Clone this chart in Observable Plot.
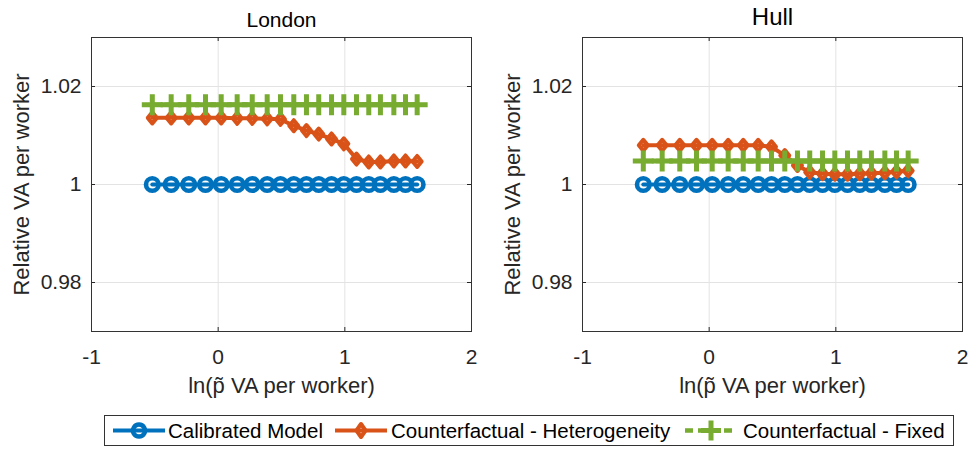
<!DOCTYPE html>
<html>
<head>
<meta charset="utf-8">
<script src="https://cdn.jsdelivr.net/npm/d3@7"></script>
<script src="https://cdn.jsdelivr.net/npm/@observablehq/plot@0.6"></script>
<style>
  html, body { margin: 0; padding: 0; background: #fff; }
  #wrap { position: relative; width: 975px; height: 450px; overflow: hidden; font-family: "Liberation Sans", Arial, sans-serif; }
  #wrap svg.panel { position: absolute; top: 0; }
  #legend { position: absolute; left: 104px; top: 415px; width: 850px; height: 31px; box-sizing: border-box; border: 1px solid #333; background: #fff; }
  .item { position: absolute; top: 0; height: 29px; }
  .item svg { position: absolute; top: 0; }
  .item span { position: absolute; top: 3px; font-size: 20.5px; line-height: 23px; color: #000; white-space: nowrap; }
</style>
</head>
<body>
<div id="wrap"><div id="legend"></div></div>
<script>
// ---- data ----
const xValues = [-0.52, -0.371, -0.232, -0.100, 0.024, 0.150, 0.269, 0.387, 0.492, 0.597,
                 0.697, 0.794, 0.895, 0.992, 1.092, 1.189, 1.281, 1.387, 1.479, 1.571];

const londonCalibrated = [1, 1, 1, 1, 1, 1, 1, 1, 1, 1, 1, 1, 1, 1, 1, 1, 1, 1, 1, 1];
const londonHeterogeneity = [1.0136, 1.0136, 1.0136, 1.0136, 1.0136, 1.0135, 1.0135, 1.0134, 1.0133, 1.0120,
                             1.0110, 1.0103, 1.0093, 1.0083, 1.0052, 1.0046, 1.0046, 1.0048, 1.0048, 1.0047];
const londonFixed = [1.0163, 1.0163, 1.0163, 1.0163, 1.0163, 1.0163, 1.0163, 1.0163, 1.0163, 1.0163,
                     1.0163, 1.0163, 1.0163, 1.0163, 1.0163, 1.0163, 1.0163, 1.0163, 1.0163, 1.0163];

const hullCalibrated = [1, 1, 1, 1, 1, 1, 1, 1, 1, 1, 1, 1, 1, 1, 1, 1, 1, 1, 1, 1];
const hullHeterogeneity = [1.0080, 1.0080, 1.0080, 1.0080, 1.0080, 1.0080, 1.0080, 1.0080, 1.0077, 1.0059,
                           1.0039, 1.0025, 1.0022, 1.0021, 1.0021, 1.0022, 1.0023, 1.0024, 1.0026, 1.0028];
const hullFixed = [1.0048, 1.0048, 1.0048, 1.0048, 1.0048, 1.0048, 1.0048, 1.0048, 1.0048, 1.0048,
                   1.0048, 1.0048, 1.0048, 1.0048, 1.0048, 1.0048, 1.0048, 1.0048, 1.0048, 1.0048];

const panelTitles = ["London", "Hull"];
const seriesNames = ["Calibrated Model", "Counterfactual - Heterogeneity", "Counterfactual - Fixed"];
const xTicks = [-1, 0, 1, 2];
const yTicks = [0.98, 1, 1.02];
const xDomain = [-1, 2];
const yDomain = [0.97, 1.03];
const xLabel = "ln(p\u0303 VA per worker)";
const yLabel = "Relative VA per worker";

// ---- styles ----
const colors = ["#0072BD", "#D95319", "#77AC30"];
const FONT = "Liberation Sans, Arial, Helvetica, sans-serif";

const diamondSym = {draw(ctx, size) {
  const r = Math.sqrt(size / Math.PI);
  ctx.moveTo(0, -r); ctx.lineTo(r * 0.82, 0); ctx.lineTo(0, r); ctx.lineTo(-r * 0.82, 0); ctx.closePath();
}};
const plusSym = {draw(ctx, size) {
  const r = Math.sqrt(size / Math.PI);
  ctx.moveTo(-r, 0); ctx.lineTo(r, 0); ctx.moveTo(0, -r); ctx.lineTo(0, r);
}};

function rows(ys) { return xValues.map((x, i) => ({x, y: ys[i]})); }

function panel(title, series, opts) {
  const [cal, het, fix] = series.map(rows);
  const W = opts.width, H = 410;
  const frameW = W - opts.ml - opts.mr, frameH = H - 37 - 79;
  return Plot.plot({
    width: W, height: H,
    marginLeft: opts.ml, marginRight: opts.mr, marginTop: 37, marginBottom: 79,
    x: {domain: xDomain},
    y: {domain: yDomain},
    style: {fontFamily: FONT, fontSize: "21px", color: "#262626", background: "white", overflow: "visible"},
    marks: [
      Plot.gridX(xTicks, {stroke: "#e3e3e3", strokeOpacity: 1}),
      Plot.gridY(yTicks, {stroke: "#e3e3e3", strokeOpacity: 1}),
      // inward ticks (MATLAB style) on all four sides
      Plot.tickX(xTicks, {x: d => d, stroke: "#262626", insetTop: frameH - 4}),
      Plot.tickX(xTicks, {x: d => d, stroke: "#262626", insetBottom: frameH - 4}),
      Plot.tickY(yTicks, {y: d => d, stroke: "#262626", insetRight: frameW - 4}),
      Plot.tickY(yTicks, {y: d => d, stroke: "#262626", insetLeft: frameW - 4}),
      Plot.frame({stroke: "#333", strokeWidth: 1}),
      Plot.axisX({ticks: xTicks, tickSize: 0, tickPadding: 18, tickFormat: d => String(d), label: null, fill: "#262626"}),
      Plot.axisY({ticks: yTicks, tickSize: 0, tickPadding: 10, tickFormat: d => d === 1 ? "1" : d.toFixed(2), label: null, fill: "#262626"}),
      // series 1: calibrated
      Plot.line(cal, {x: "x", y: "y", stroke: colors[0], strokeWidth: 4}),
      Plot.dot(cal, {x: "x", y: "y", r: 6.3, symbol: "circle", fill: "none", stroke: colors[0], strokeWidth: 4.6}),
      // series 2: heterogeneity
      Plot.line(het, {x: "x", y: "y", stroke: colors[1], strokeWidth: 4}),
      Plot.dot(het, {x: "x", y: "y", r: 5.5, symbol: diamondSym, fill: "none", stroke: colors[1], strokeWidth: 4, strokeLinejoin: "round"}),
      // series 3: fixed
      Plot.line(fix, {x: "x", y: "y", stroke: colors[2], strokeWidth: 4.5, strokeDasharray: "8,5"}),
      Plot.dot(fix, {x: "x", y: "y", r: 10.5, symbol: plusSym, fill: "none", stroke: colors[2], strokeWidth: 5, strokeLinecap: "butt"}),
      // labels
      Plot.text([title], {frameAnchor: "top", dy: opts.titleDy, lineAnchor: "middle", fontSize: opts.titleSize, fill: "#000"}),
      Plot.text([xLabel], {frameAnchor: "bottom", dy: 54, lineAnchor: "middle", fontSize: 22, fill: "#262626"}),
      Plot.text([yLabel], {frameAnchor: "left", dx: -70, rotate: -90, lineAnchor: "middle", textAnchor: "middle", fontSize: 22, fill: "#262626"})
    ]
  });
}

const wrap = document.getElementById("wrap");
const p1 = panel(panelTitles[0], [londonCalibrated, londonHeterogeneity, londonFixed], {width: 487, ml: 91, mr: 16, titleDy: -17, titleSize: 21});
p1.classList.add("panel"); p1.style.left = "0px";
const p2 = panel(panelTitles[1], [hullCalibrated, hullHeterogeneity, hullFixed], {width: 484, ml: 91, mr: 13, titleDy: -20, titleSize: 24});
p2.classList.add("panel"); p2.style.left = "491px";
wrap.insertBefore(p1, wrap.firstChild);
wrap.insertBefore(p2, wrap.firstChild.nextSibling);

// ---- legend ----
const legend = document.getElementById("legend");
const legendPos = [{sw: 7, tx: 63}, {sw: 229, tx: 286}, {sw: 579, tx: 638}];
const ns = "http://www.w3.org/2000/svg";
seriesNames.forEach((name, i) => {
  const item = document.createElement("div");
  item.className = "item";
  item.style.left = "0px";
  const svg = document.createElementNS(ns, "svg");
  svg.setAttribute("width", 54); svg.setAttribute("height", 29);
  svg.style.left = legendPos[i].sw + "px";
  const line = document.createElementNS(ns, "line");
  line.setAttribute("x1", 1); line.setAttribute("x2", 53); line.setAttribute("y1", 14.5); line.setAttribute("y2", 14.5);
  line.setAttribute("stroke", colors[i]); line.setAttribute("stroke-width", i === 2 ? 4.5 : 4);
  if (i === 2) line.setAttribute("stroke-dasharray", "8,5");
  svg.appendChild(line);
  const m = document.createElementNS(ns, "path");
  let d;
  if (i === 0) d = "M27,8.5A6,6 0 1,1 26.99,8.5Z";
  else if (i === 1) d = "M27,8 L31.5,14.5 L27,21 L22.5,14.5Z";
  else d = "M17,14.5H37M27,4.5V24.5";
  m.setAttribute("d", d);
  m.setAttribute("fill", "none");
  m.setAttribute("stroke", colors[i]);
  m.setAttribute("stroke-width", i === 0 ? 4.5 : i === 1 ? 4 : 5);
  m.setAttribute("stroke-linejoin", "round");
  svg.appendChild(m);
  item.appendChild(svg);
  const span = document.createElement("span");
  span.textContent = name;
  span.style.left = legendPos[i].tx + "px";
  item.appendChild(span);
  legend.appendChild(item);
});
</script>
</body>
</html>
